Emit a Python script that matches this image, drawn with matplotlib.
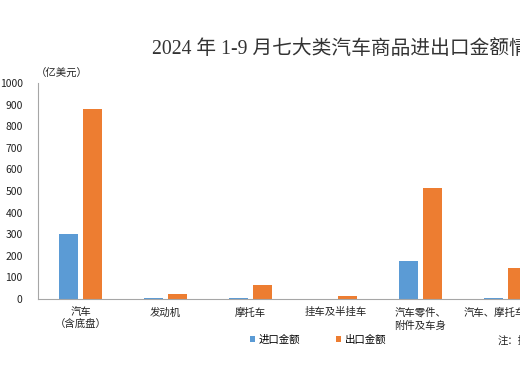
import matplotlib.pyplot as plt
import numpy as np

plt.rcParams['font.family'] = ['Noto Sans CJK SC', 'DejaVu Sans']

# data (亿美元)
categories = ['汽车\n（含底盘）', '发动机', '摩托车', '挂车及半挂车',
              '汽车零件、\n附件及车身', '汽车、摩托车轮胎']
imports = [302, 3, 3, 2, 177, 4]
exports = [878, 21, 64, 12, 515, 144]
n_slots = 7  # seven categories, the last one is outside the picture

blue = '#5B9BD5'
orange = '#ED7D31'

W, H = 520, 390
fig = plt.figure(figsize=(W / 100, H / 100), dpi=100)
ax = fig.add_axes([38 / W, (H - 299) / H, n_slots * 85 / W, (299 - 83) / H])

x = np.arange(len(categories))
ax.bar(x - 0.14, imports, width=0.22, color=blue, label='进口金额')
ax.bar(x + 0.14, exports, width=0.22, color=orange, label='出口金额')

ax.set_xlim(-0.5, n_slots - 0.5)
ax.set_ylim(0, 1000)
ax.set_yticks(range(0, 1001, 100))
ax.tick_params(axis='y', length=0, pad=11, labelsize=7.5, colors='#222222')
ax.set_xticks(x)
ax.set_xticklabels(categories, fontsize=7.5, color='#222222', linespacing=1.3)
ax.tick_params(axis='x', length=0, pad=6)

for side in ['top', 'right']:
    ax.spines[side].set_visible(False)
ax.spines['left'].set_color('#a6a6a6')
ax.spines['bottom'].set_color('#a6a6a6')

fig.text(36 / W, 1 - 74 / H, '（亿美元）', fontsize=7.5, va='center', ha='left',
         color='#222222')

fig.text(152 / W, 1 - 50 / H, '2024 年 1-9 月七大类汽车商品进出口金额情况',
         fontsize=14.2, va='center', ha='left',
         family=['Liberation Serif', 'Noto Sans CJK SC'], color='#333333')

fig.legend(loc='center', bbox_to_anchor=(318 / W, 1 - 340 / H), ncol=2,
           frameon=False, fontsize=7.5, handlelength=0.5, handleheight=0.5,
           handletextpad=0.3, columnspacing=3.5)

fig.text(498 / W, 1 - 341 / H, '注：据海关数据整理', fontsize=7.5, va='center',
         ha='left', color='#222222')

fig.savefig('out.png', dpi=100)
